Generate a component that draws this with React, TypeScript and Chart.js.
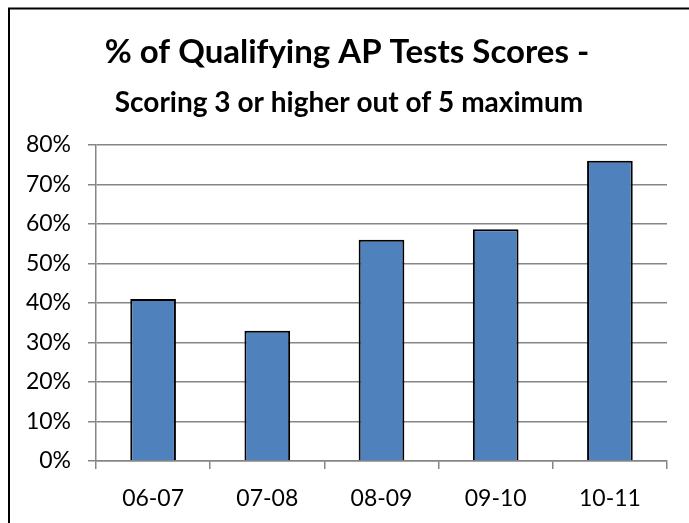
import React, { useEffect, useRef } from "react";
import { Chart, registerables } from "chart.js";

Chart.register(...registerables);

const categories = ["06-07", "07-08", "08-09", "09-10", "10-11"];
const qualifyingPct = [41, 33, 56, 58.7, 76];
const yTicks = [0, 10, 20, 30, 40, 50, 60, 70, 80];
const titleLine1 = "% of Qualifying AP Tests Scores -";
const titleLine2 = "Scoring 3 or higher out of 5 maximum";

const frameAndTitle = {
  id: "frameAndTitle",
  afterDraw(chart: any) {
    const ctx = chart.ctx;
    ctx.save();
    ctx.strokeStyle = "#000";
    ctx.lineWidth = 2;
    ctx.beginPath();
    ctx.moveTo(9, 523);
    ctx.lineTo(9, 8.5);
    ctx.lineTo(689, 8.5);
    ctx.stroke();
    ctx.fillStyle = "#000";
    ctx.textAlign = "center";
    ctx.textBaseline = "alphabetic";
    ctx.font = "bold 33px Lato";
    ctx.fillText(titleLine1, 347, 63);
    ctx.font = "bold 28px Lato";
    ctx.fillText(titleLine2, 349, 112);
    ctx.restore();
  },
};

export default function App() {
  const ref = useRef<HTMLCanvasElement | null>(null);
  useEffect(() => {
    if (!ref.current) return;
    const chart = new Chart(ref.current, {
      type: "bar",
      data: {
        labels: categories,
        datasets: [
          {
            data: qualifyingPct,
            backgroundColor: "#4F81BD",
            borderColor: "#000",
            borderWidth: 2,
            barPercentage: 0.4,
            categoryPercentage: 1,
          },
        ],
      },
      options: {
        animation: false,
        responsive: false,
        devicePixelRatio: 1,
        layout: { padding: { top: 145, right: 22, left: 0, bottom: 0 } },
        plugins: {
          legend: { display: false },
          title: { display: false },
          tooltip: { enabled: false },
        },
        scales: {
          x: {
            grid: {
              offset: true,
              drawOnChartArea: false,
              drawTicks: true,
              tickLength: 8,
              color: "#868686",
              lineWidth: 1.5,
            },
            border: { color: "#868686", width: 1.5 },
            ticks: {
              color: "#000",
              font: { family: "Lato", size: 23 },
              padding: 16,
            },
            afterFit(scale: any) {
              scale.height = 62;
            },
          },
          y: {
            min: 0,
            max: 80,
            afterBuildTicks(scale: any) {
              scale.ticks = yTicks.map((v) => ({ value: v }));
            },
            grid: {
              color: "#868686",
              lineWidth: 1.5,
              tickLength: 8,
            },
            border: { color: "#868686", width: 1.5 },
            ticks: {
              color: "#000",
              font: { family: "Lato", size: 23 },
              padding: 17,
              callback: (v: any) => v + "%",
            },
            afterFit(scale: any) {
              scale.width = 96;
            },
          },
        },
      },
      plugins: [frameAndTitle],
    });
    return () => chart.destroy();
  }, []);
  return (
    <div style={{ position: "absolute", left: 0, top: 0, width: 689, height: 523, background: "#fff" }}>
      <canvas ref={ref} width={689} height={523} />
    </div>
  );
}
